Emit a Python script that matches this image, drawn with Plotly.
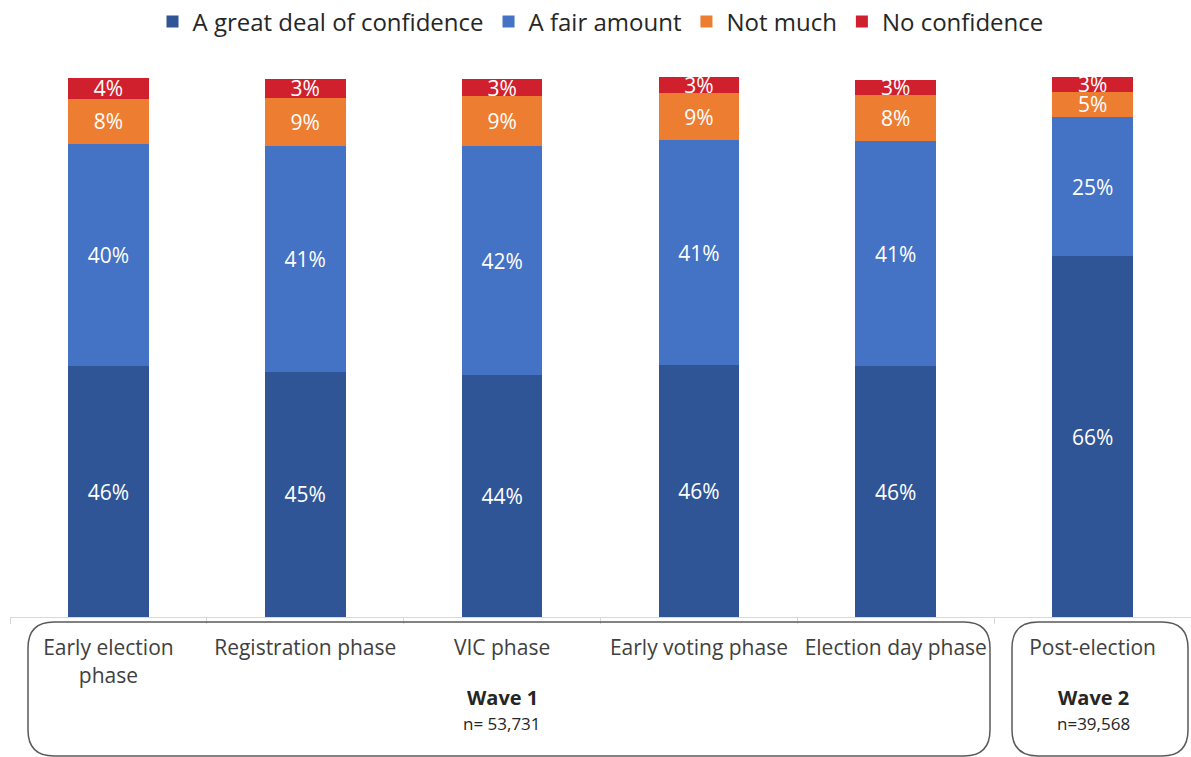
import plotly.graph_objects as go

# phases on the x axis
phases = ["Early election<br>phase", "Registration phase", "VIC phase",
          "Early voting phase", "Election day phase", "Post-election"]

# share of respondents (%) per answer
great_deal = [45.6, 44.6, 44.0, 45.8, 45.6, 65.6]
fair_amount = [40.4, 41.1, 41.6, 40.9, 40.9, 25.3]
not_much = [8.2, 8.7, 9.1, 8.6, 8.4, 4.6]
no_conf = [3.8, 3.4, 3.1, 2.9, 2.8, 2.7]

series = [
    ("A great deal of confidence", great_deal, "#2F5597"),
    ("A fair amount", fair_amount, "#4472C4"),
    ("Not much", not_much, "#ED7D31"),
    ("No confidence", no_conf, "#D0202E"),
]

FONT = "Open Sans"

fig = go.Figure()
for name, vals, col in series:
    fig.add_trace(go.Bar(
        x=phases, y=vals, name=name, marker_color=col,
        marker_line_width=0,
        texttemplate="%{y:.0f}%", textposition="inside",
        insidetextanchor="middle",
        textfont=dict(color="white", size=21, family=FONT),
    ))

# plot area in pixels: x 10..1191, y 67..617
L, R, T, B = 10, 1191, 67, 617


def px_x(p):
    return (p - L) / (R - L)


def px_y(p):
    return (B - p) / (B - T)


def rounded_box(x0, y0, x1, y1, r):
    # path in paper coords built from pixel box
    ax0, ax1 = px_x(x0), px_x(x1)
    ay0, ay1 = px_y(y0), px_y(y1)
    rx = r / (R - L)
    ry = r / (B - T)
    return (f"M {ax0 + rx},{ay0} L {ax1 - rx},{ay0} Q {ax1},{ay0} {ax1},{ay0 - ry} "
            f"L {ax1},{ay1 + ry} Q {ax1},{ay1} {ax1 - rx},{ay1} "
            f"L {ax0 + rx},{ay1} Q {ax0},{ay1} {ax0},{ay1 + ry} "
            f"L {ax0},{ay0 - ry} Q {ax0},{ay0} {ax0 + rx},{ay0} Z")


for box in [(28, 622, 990, 756), (1012, 622, 1188, 756)]:
    fig.add_shape(type="path", xref="paper", yref="paper",
                  path=rounded_box(*box, 26),
                  line=dict(color="#595959", width=1.5))

waves = [("Wave 1", "n= 53,731", 502), ("Wave 2", "n=39,568", 1093)]
for title, n, cx in waves:
    fig.add_annotation(x=px_x(cx), y=px_y(697), xref="paper", yref="paper",
                       xanchor="center", yanchor="middle",
                       text=f"<b>{title}</b>", showarrow=False,
                       font=dict(size=20, color="#262626", family=FONT))
    fig.add_annotation(x=px_x(cx), y=px_y(723), xref="paper", yref="paper",
                       xanchor="center", yanchor="middle",
                       text=n, showarrow=False,
                       font=dict(size=17, color="#262626", family=FONT))

fig.update_layout(
    width=1191, height=757,
    margin=dict(l=L, r=1191 - R, t=T, b=757 - B, autoexpand=False),
    barmode="stack", bargap=0.59,
    plot_bgcolor="white", paper_bgcolor="white",
    font=dict(family=FONT, color="#404040"),
    uniformtext=dict(minsize=21, mode="show"),
    legend=dict(orientation="h", x=0.5, xanchor="center",
                y=px_y(22), yanchor="middle",
                font=dict(size=24, color="#262626", family=FONT),
                traceorder="normal"),
    xaxis=dict(showline=True, linecolor="#D9D9D9", linewidth=1,
               ticks="outside", tickson="boundaries", ticklen=6,
               tickcolor="#D9D9D9", tickfont=dict(size=21, color="#404040"),
               ticklabelstandoff=12, automargin=False,
               range=[-0.5, 5.5]),
    yaxis=dict(range=[0, 100], visible=False),
)

# page body has a default 8px margin; drop it so the figure fills the window
fig.write_html("out.html", config={"displayModeBar": False},
               post_script="document.body.style.margin='0';")
